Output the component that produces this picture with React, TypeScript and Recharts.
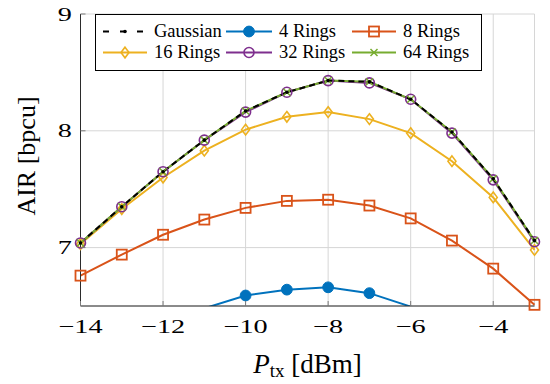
import {
  CartesianGrid,
  ComposedChart,
  Legend,
  Line,
  Scatter,
  XAxis,
  YAxis,
} from 'recharts';

// Transmit power sweep (dBm) and the achievable information rate per scheme.
const txPower = [-14, -13, -12, -11, -10, -9, -8, -7, -6, -5, -4, -3];
const gaussian = [7.04, 7.35, 7.65, 7.92, 8.17, 8.33, 8.43, 8.42, 8.27, 7.99, 7.59, 7.06];
const rings4 = [5.95, 6.15, 6.33, 6.48, 6.59, 6.64, 6.66, 6.61, 6.495, 6.3, 6.05, 5.75];
const rings8 = [6.76, 6.94, 7.11, 7.24, 7.34, 7.4, 7.41, 7.36, 7.25, 7.06, 6.82, 6.51];
const rings16 = [7.03, 7.33, 7.6, 7.83, 8.01, 8.12, 8.16, 8.1, 7.98, 7.74, 7.43, 6.98];
const rings32 = [7.04, 7.35, 7.65, 7.92, 8.16, 8.33, 8.43, 8.41, 8.27, 7.98, 7.58, 7.05];
const rings64 = [7.04, 7.35, 7.65, 7.92, 8.17, 8.33, 8.43, 8.42, 8.27, 7.99, 7.59, 7.06];

const xTicks = [-14, -12, -10, -8, -6, -4];
const yTicks = [7, 8, 9];
const X_DOMAIN: [number, number] = [-14, -3];
const Y_DOMAIN: [number, number] = [6.5, 9];

type MarkerKind = 'dot' | 'disc' | 'square' | 'diamond' | 'circle' | 'cross';

interface SeriesDef {
  key: string;
  name: string;
  values: number[];
  color: string;
  marker: MarkerKind;
  dashed?: boolean;
}

// Drawing order: Gaussian last so its dashes sit on top of the 32/64 ring curves.
const SERIES: SeriesDef[] = [
  { key: 'r4', name: '4 Rings', values: rings4, color: '#0072BD', marker: 'disc' },
  { key: 'r8', name: '8 Rings', values: rings8, color: '#D95319', marker: 'square' },
  { key: 'r16', name: '16 Rings', values: rings16, color: '#EDB120', marker: 'diamond' },
  { key: 'r32', name: '32 Rings', values: rings32, color: '#7E2F8E', marker: 'circle' },
  { key: 'r64', name: '64 Rings', values: rings64, color: '#77AC30', marker: 'cross' },
  { key: 'gauss', name: 'Gaussian', values: gaussian, color: '#000000', marker: 'dot', dashed: true },
];
const LEGEND_ORDER = ['gauss', 'r4', 'r8', 'r16', 'r32', 'r64'];

const rows = txPower.map((x, i) => {
  const row: Record<string, number> = { x };
  for (const s of SERIES) row[s.key] = s.values[i];
  return row;
});

// Markers only for points inside the visible y range (pgfplots drops the rest,
// but does not clip markers sitting on the frame).
function markerPoints(values: number[]) {
  return values
    .map((y, i) => ({ x: txPower[i], y }))
    .filter((p) => p.y >= Y_DOMAIN[0] && p.y <= Y_DOMAIN[1]);
}

const FRAME = '#2b2b2b';
const TICK_MARK = '#7a7a7a';
const TEXT_FONT = '"Liberation Serif", "Times New Roman", serif';
// the source figure is stretched sideways, so the tick numerals are too
const TICK_STRETCH = 1.45;

function Marker({ kind, cx, cy, color }: { kind: MarkerKind; cx: number; cy: number; color: string }) {
  switch (kind) {
    case 'dot':
      return <circle cx={cx} cy={cy} r={1.8} fill={color} />;
    case 'disc':
      return <circle cx={cx} cy={cy} r={5.4} fill={color} stroke={color} strokeWidth={1} />;
    case 'square':
      return (
        <rect x={cx - 5} y={cy - 5} width={10} height={10} fill="none" stroke={color} strokeWidth={1.8} />
      );
    case 'diamond':
      return (
        <path
          d={`M${cx},${cy - 5.3}L${cx + 4},${cy}L${cx},${cy + 5.3}L${cx - 4},${cy}Z`}
          fill="none"
          stroke={color}
          strokeWidth={1.6}
        />
      );
    case 'circle':
      return <circle cx={cx} cy={cy} r={5} fill="none" stroke={color} strokeWidth={1.6} />;
    case 'cross':
      return (
        <path
          d={`M${cx - 3.5},${cy - 3.5}L${cx + 3.5},${cy + 3.5}M${cx + 3.5},${cy - 3.5}L${cx - 3.5},${cy + 3.5}`}
          stroke={color}
          strokeWidth={1.5}
        />
      );
  }
}

function fmtTick(v: number): string {
  return v < 0 ? `\u2212${Math.abs(v)}` : String(v);
}

function TickText({ x, y, anchor, children }: { x: number; y: number; anchor: 'middle' | 'end'; children: string }) {
  return (
    <text
      transform={`translate(${x} ${y}) scale(${TICK_STRETCH} 1)`}
      textAnchor={anchor}
      fontFamily={TEXT_FONT}
      fontSize={19.5}
      fill="#000"
    >
      {children}
    </text>
  );
}

function BottomTick(props: any) {
  const { x, y, payload } = props;
  return (
    <g>
      <line x1={x} y1={y} x2={x} y2={y - 5} stroke={TICK_MARK} />
      <TickText x={x} y={y + 27} anchor="middle">
        {fmtTick(payload.value)}
      </TickText>
    </g>
  );
}

function LeftTick(props: any) {
  const { x, y, payload } = props;
  return (
    <g>
      <line x1={x} y1={y} x2={x + 5} y2={y} stroke={TICK_MARK} />
      <TickText x={x - 8.5} y={y + 6.5} anchor="end">
        {fmtTick(payload.value)}
      </TickText>
    </g>
  );
}

function TopTick(props: any) {
  const { x, y } = props;
  return <line x1={x} y1={y} x2={x} y2={y + 5} stroke={TICK_MARK} />;
}

function RightTick(props: any) {
  const { x, y } = props;
  return <line x1={x} y1={y} x2={x - 5} y2={y} stroke={TICK_MARK} />;
}

function XTitle(props: any) {
  const { x, y, width } = props.viewBox;
  return (
    <text x={x + width / 2} y={y + 67} textAnchor="middle" fontFamily={TEXT_FONT} fontSize={27} fill="#000">
      <tspan fontStyle="italic">P</tspan>
      <tspan fontSize={19} dy={4}>tx</tspan>
      <tspan dy={-4}> [dBm]</tspan>
    </text>
  );
}

function YTitle(props: any) {
  const { y, height } = props.viewBox;
  const cy = y + height / 2 - 4;
  return (
    <text
      x={35}
      y={cy}
      transform={`rotate(-90, 35, ${cy})`}
      textAnchor="middle"
      fontFamily={TEXT_FONT}
      fontSize={26}
      fill="#000"
    >
      AIR [bpcu]
    </text>
  );
}

function LegendSample({ s, width }: { s: SeriesDef; width: number }) {
  return (
    <svg width={width} height={21} style={{ display: 'block' }}>
      <line
        x1={0}
        x2={width}
        y1={10.5}
        y2={10.5}
        stroke={s.color}
        strokeWidth={2}
        strokeDasharray={s.dashed ? '6 11' : undefined}
      />
      <Marker kind={s.marker} cx={width / 2} cy={10.5} color={s.color} />
    </svg>
  );
}

const SAMPLE_WIDTHS = [44, 46, 44];

function LegendBox() {
  const entries = LEGEND_ORDER.map((k) => SERIES.find((s) => s.key === k)!);
  return (
    <div
      style={{
        boxSizing: 'border-box',
        width: '100%',
        height: '100%',
        border: '1px solid #000',
        background: '#fff',
        padding: '6px 0 0 7px',
        display: 'grid',
        gridTemplateColumns: '44px 79px 46px 80px 44px auto',
        gridAutoRows: '21px',
        fontFamily: TEXT_FONT,
        fontSize: 18.5,
        lineHeight: '21px',
        color: '#000',
      }}
    >
      {entries.flatMap((s, i) => [
        <LegendSample key={`${s.key}-sample`} s={s} width={SAMPLE_WIDTHS[i % 3]} />,
        <span key={`${s.key}-label`} style={{ paddingLeft: 7, whiteSpace: 'nowrap' }}>
          {s.name}
        </span>,
      ])}
    </div>
  );
}

export default function App() {
  return (
    <div style={{ position: 'absolute', left: 0, top: 0, width: 550, height: 384, background: '#fff' }}>
      <ComposedChart
        width={550}
        height={384}
        data={rows}
        margin={{ top: 14, right: 15.5, bottom: 0, left: 0 }}
      >
        <CartesianGrid stroke="#d6d6d6" strokeWidth={1} />
        <XAxis
          dataKey="x"
          type="number"
          domain={X_DOMAIN}
          ticks={xTicks}
          interval={0}
          height={78}
          tickSize={0}
          tickMargin={0}
          tickLine={false}
          axisLine={{ stroke: FRAME }}
          tick={<BottomTick />}
          label={XTitle}
        />
        <XAxis
          xAxisId="top"
          orientation="top"
          type="number"
          domain={X_DOMAIN}
          ticks={xTicks}
          interval={0}
          height={0}
          allowDataOverflow
          tickSize={0}
          tickMargin={0}
          tickLine={false}
          axisLine={{ stroke: FRAME }}
          tick={<TopTick />}
        />
        <YAxis
          type="number"
          domain={Y_DOMAIN}
          ticks={yTicks}
          interval={0}
          width={80.5}
          allowDataOverflow
          tickSize={0}
          tickMargin={0}
          tickLine={false}
          axisLine={{ stroke: FRAME }}
          tick={<LeftTick />}
          label={YTitle}
        />
        <YAxis
          yAxisId="right"
          orientation="right"
          type="number"
          domain={Y_DOMAIN}
          ticks={yTicks}
          interval={0}
          width={0}
          allowDataOverflow
          tickSize={0}
          tickMargin={0}
          tickLine={false}
          axisLine={{ stroke: FRAME }}
          tick={<RightTick />}
        />
        <YAxis yAxisId="mk" hide type="number" dataKey="y" domain={Y_DOMAIN} />
        {SERIES.map((s) => (
          <Line
            key={s.key}
            type="linear"
            dataKey={s.key}
            stroke={s.color}
            strokeWidth={2}
            strokeDasharray={s.dashed ? '6 4' : undefined}
            dot={false}
            activeDot={false}
            isAnimationActive={false}
          />
        ))}
        {SERIES.map((s) => (
          <Scatter
            key={`${s.key}-mk`}
            yAxisId="mk"
            data={markerPoints(s.values)}
            isAnimationActive={false}
            shape={(p: any) => <Marker kind={s.marker} cx={p.cx} cy={p.cy} color={s.color} />}
          />
        ))}
        <Legend
          layout="vertical"
          align="center"
          verticalAlign="middle"
          wrapperStyle={{ left: 95, top: 14, width: 387, height: 57 }}
          content={() => <LegendBox />}
        />
      </ComposedChart>
    </div>
  );
}
